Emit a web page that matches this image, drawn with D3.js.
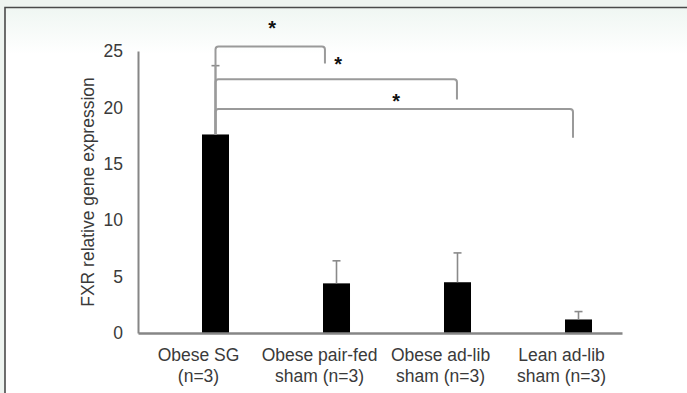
<!DOCTYPE html>
<html>
<head>
<meta charset="utf-8">
<script src="https://cdn.jsdelivr.net/npm/d3@7"></script>
<style>
  body { margin: 0; background: #eef4f0; }
  svg { display: block; font-family: "Liberation Sans", Arial, sans-serif; }
</style>
</head>
<body>
<div id="chart"></div>
<script>
var categories = ["Obese SG|(n=3)", "Obese pair-fed|sham (n=3)", "Obese ad-lib|sham (n=3)", "Lean ad-lib|sham (n=3)"];
var means = [17.6, 4.4, 4.5, 1.2];
var errors = [6.1, 2.0, 2.6, 0.7];
var yTicks = [0, 5, 10, 15, 20, 25];

// significance brackets: from/to category index, level and leg end in data units, right end shift in band fractions
var bracketFrom = [0, 0, 0];
var bracketTo = [1, 2, 3];
var bracketLevel = [25.4, 22.5, 19.85];
var bracketEnd = [23.9, 20.7, 17.3];
var bracketShift = [0.045, 0.136, 0.095];
var starLevel = [27.3, 24.1, 20.8];

var width = 687, height = 393;
var margin = {top: 51, right: 65, bottom: 60, left: 138};

var svg = d3.select("#chart").append("svg")
  .attr("width", width)
  .attr("height", height);

var defs = svg.append("defs");
var grad = defs.append("linearGradient").attr("id", "bg").attr("x1", 0).attr("x2", 0).attr("y1", 0).attr("y2", 1);
grad.append("stop").attr("offset", "0").attr("stop-color", "#eff6f2");
grad.append("stop").attr("offset", "0.12").attr("stop-color", "#ffffff");
grad.append("stop").attr("offset", "1").attr("stop-color", "#ffffff");

// frame
svg.append("rect").attr("x", 0).attr("y", 0).attr("width", width).attr("height", height).attr("fill", "#eef4f0");
svg.append("rect").attr("x", 5).attr("y", 7).attr("width", width).attr("height", height)
  .attr("fill", "url(#bg)");
svg.append("path").attr("d", "M5," + height + "V7.5H" + width)
  .attr("fill", "none").attr("stroke", "#4a4a4a").attr("stroke-width", 1.6);

var x = d3.scaleBand()
  .domain(categories)
  .range([margin.left, width - margin.right]);

// hidden first series pushes the visible bars right of the band centre
var x1 = d3.scaleBand()
  .domain(["hidden", "shown"])
  .range([0, x.bandwidth()])
  .paddingInner(0.206)
  .paddingOuter(0.882);

var y = d3.scaleLinear()
  .domain([0, 25])
  .range([height - margin.bottom, margin.top]);

var data = categories.map(function(c, i){
  return {cat: c, mean: means[i], err: errors[i]};
});

// bars
svg.selectAll("rect.bar")
  .data(data)
  .enter()
  .append("rect")
  .attr("class", "bar")
  .attr("x", function(d){ return x(d.cat) + x1("shown"); })
  .attr("y", function(d){ return y(d.mean); })
  .attr("width", x1.bandwidth())
  .attr("height", function(d){ return y(0) - y(d.mean); })
  .attr("fill", "#000");

// error bars
var eb = svg.selectAll("g.err")
  .data(data)
  .enter()
  .append("g")
  .attr("class", "err")
  .attr("stroke", "#8a8a8a")
  .attr("stroke-width", 1.6);

eb.append("line")
  .attr("x1", function(d){ return x(d.cat) + x1("shown") + x1.bandwidth() / 2; })
  .attr("x2", function(d){ return x(d.cat) + x1("shown") + x1.bandwidth() / 2; })
  .attr("y1", function(d){ return y(d.mean); })
  .attr("y2", function(d){ return y(d.mean + d.err); });

eb.append("line")
  .attr("x1", function(d){ return x(d.cat) + x1("shown") + x1.bandwidth() / 2 - 4; })
  .attr("x2", function(d){ return x(d.cat) + x1("shown") + x1.bandwidth() / 2 + 4; })
  .attr("y1", function(d){ return y(d.mean + d.err); })
  .attr("y2", function(d){ return y(d.mean + d.err); });

// axes
var yAxis = svg.append("g")
  .attr("transform", "translate(" + margin.left + ",0)")
  .call(d3.axisLeft(y).tickValues(yTicks).tickSize(0).tickPadding(15));
yAxis.select(".domain").attr("stroke", "#868686").attr("stroke-width", 2);
yAxis.selectAll("text").attr("fill", "#3a3a3a").style("font-size", "17.5px");

var xAxis = svg.append("g")
  .attr("transform", "translate(0," + y(0) + ")")
  .call(d3.axisBottom(x).tickSize(0).tickFormat(""));
xAxis.select(".domain").attr("stroke", "#868686").attr("stroke-width", 2.4);

xAxis.selectAll(".tick").each(function(c){
  var t = d3.select(this).append("text")
    .attr("fill", "#3a3a3a")
    .attr("text-anchor", "middle")
    .style("font-size", "17.5px");
  c.split("|").forEach(function(line, i){
    t.append("tspan").attr("x", 0).attr("y", 28 + i * 21).text(line);
  });
});

svg.append("text")
  .attr("transform", "translate(94," + ((y(0) + y(25)) / 2) + ") rotate(-90)")
  .attr("text-anchor", "middle")
  .attr("fill", "#3a3a3a")
  .style("font-size", "17.5px")
  .text("FXR relative gene expression");

// brackets and stars
var barCenter = function(i){ return x(categories[i]) + x1("shown") + x1.bandwidth() / 2; };
var brackets = bracketFrom.map(function(f, i){
  return {
    x0: barCenter(f),
    x1: x(categories[bracketTo[i]]) + x.bandwidth() * (0.5 + bracketShift[i]),
    top: y(bracketLevel[i]),
    end: y(bracketEnd[i]),
    base: y(means[f]),
    star: y(starLevel[i])
  };
});

svg.selectAll("path.bracket")
  .data(brackets)
  .enter()
  .append("path")
  .attr("class", "bracket")
  .attr("fill", "none")
  .attr("stroke", "#9a9a9a")
  .attr("stroke-width", 2)
  .attr("d", function(d){
    return "M" + d.x0 + "," + d.base + "V" + (d.top + 3) + "Q" + d.x0 + "," + d.top + " " + (d.x0 + 3) + "," + d.top +
      "H" + (d.x1 - 3) + "Q" + d.x1 + "," + d.top + " " + d.x1 + "," + (d.top + 3) + "V" + d.end;
  });

svg.selectAll("text.star")
  .data(brackets)
  .enter()
  .append("text")
  .attr("class", "star")
  .attr("x", function(d){ return (d.x0 + d.x1) / 2 + 2; })
  .attr("y", function(d){ return d.star + 10; })
  .attr("text-anchor", "middle")
  .attr("fill", "#111")
  .style("font-size", "20px")
  .style("font-weight", "bold")
  .text("*");
</script>
</body>
</html>
